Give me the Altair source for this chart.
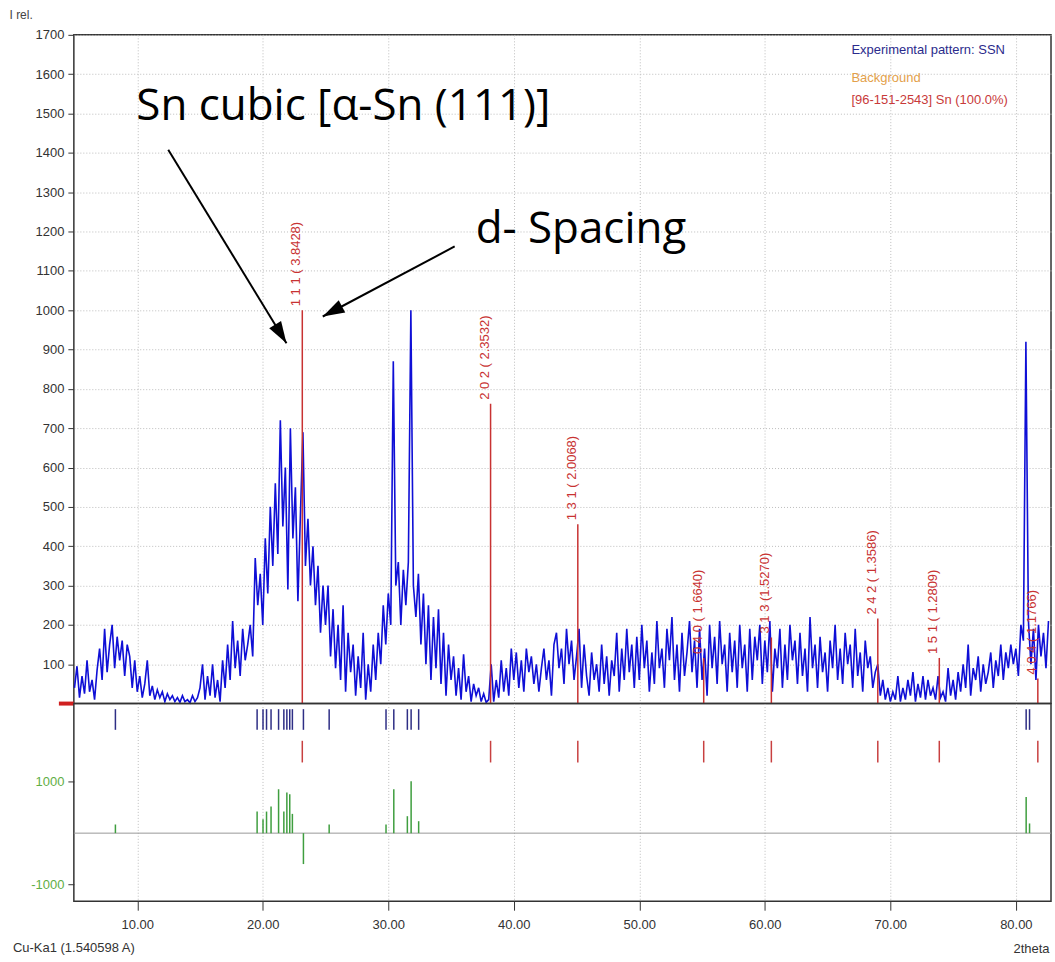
import math
import altair as alt
import pandas as pd

# ---------------- data ----------------
# experimental pattern, sampled every 0.2 deg 2theta starting at 5.0
X_START = 5.0
X_STEP = 0.2
INTENSITY = [
    40, 95, 15, 70, 25,        # 5
    110, 30, 60, 10, 85,       # 6
    140, 60, 190, 80, 150,     # 7
    200, 90, 170, 110, 160,    # 8
    70, 150, 120, 40, 110,     # 9
    30, 70, 15, 50, 110,       # 10
    20, 45, 10, 35, 15,        # 11
    30, 5, 25, 10, 20,         # 12
    5, 15, 3, 20, 5,           # 13
    10, 2, 20, 5, 15,          # 14
    40, 100, 10, 70, 20,       # 15
    100, 15, 60, 5, 110,       # 16
    40, 150, 60, 210, 90,      # 17
    160, 70, 190, 110, 150,    # 18
    200, 120, 370, 250, 330,   # 19
    200, 420, 280, 500, 350,   # 20
    560, 380, 720, 450, 600,   # 21
    290, 700, 420, 550, 260,   # 22
    480, 690, 350, 470, 300,   # 23
    400, 250, 350, 180, 300,   # 24
    200, 300, 120, 240, 90,    # 25
    200, 60, 250, 30, 180,     # 26
    80, 150, 20, 120, 40,      # 27
    180, 10, 100, 30, 150,     # 28
    60, 180, 100, 250, 150,    # 29
    280, 200, 870, 300, 360,   # 30
    200, 340, 250, 360, 1000,  # 31
    300, 220, 330, 150, 280,   # 32
    100, 250, 60, 220, 90,     # 33
    240, 50, 180, 20, 150,     # 34
    60, 120, 20, 90, 10,       # 35
    125, 30, 70, 5, 50,        # 36
    20, 40, 5, 25, 3,          # 37
    10, 100, 5, 60, 15,        # 38
    110, 30, 90, 20, 140,      # 39
    60, 130, 40, 110, 30,      # 40
    140, 80, 120, 50, 100,     # 41
    30, 90, 140, 60, 110,      # 42
    20, 150, 180, 90, 140,     # 43
    50, 190, 100, 160, 60,     # 44
    120, 190, 40, 150, 70,     # 45
    20, 130, 60, 100, 30,      # 46
    150, 50, 120, 20, 110,     # 47
    70, 180, 30, 140, 60,      # 48
    190, 80, 150, 40, 170,     # 49
    60, 200, 90, 160, 30,      # 50
    130, 50, 210, 90, 140,     # 51
    40, 190, 110, 220, 60,     # 52
    150, 30, 180, 70, 130,     # 53
    210, 80, 160, 40, 190,     # 54
    60, 140, 20, 200, 90,      # 55
    170, 50, 210, 100, 150,    # 56
    30, 180, 80, 160, 40,      # 57
    200, 90, 150, 30, 190,     # 58
    60, 170, 110, 200, 50,     # 59
    160, 80, 210, 30, 140,     # 60
    90, 190, 40, 150, 60,      # 61
    200, 110, 160, 50, 180,    # 62
    70, 140, 30, 220, 90,      # 63
    150, 40, 170, 80, 130,     # 64
    30, 160, 90, 200, 60,      # 65
    140, 50, 180, 100, 150,    # 66
    40, 190, 70, 130, 30,      # 67
    160, 90, 120, 40, 80,      # 68
    100, 20, 60, 10, 40,       # 69
    5, 30, 10, 70, 5,          # 70
    40, 10, 60, 20, 80,        # 71
    5, 50, 15, 70, 10,         # 72
    60, 20, 40, 10, 70,        # 73
    15, 30, 5, 90, 20,         # 74
    60, 10, 80, 30, 100,       # 75
    40, 150, 20, 90, 60,       # 76
    120, 30, 100, 50, 80,      # 77
    130, 40, 110, 70, 150,     # 78
    60, 130, 90, 150, 100,     # 79
    140, 70, 200, 160, 920,    # 80
    210, 100, 190, 60, 200,    # 81
    120, 180, 90, 210,         # 82
]
TWO_THETA = [round(X_START + i * X_STEP, 2) for i in range(len(INTENSITY))]

# reference pattern [96-151-2543] Sn
REF_2THETA = [23.15, 38.15, 45.10, 55.13, 60.52, 69.00, 73.90, 81.75]
REF_I = [1000, 762, 456, 116, 168, 216, 116, 64]
REF_LABEL = ["1 1 1 ( 3.8428)", "2 0 2 ( 2.3532)", "1 3 1 ( 2.0068)",
             "0 4 0 ( 1.6640)", "3 1 3 (1.5270)", "2 4 2 ( 1.3586)",
             "1 5 1 ( 1.2809)", "4 0 4 ( 1.1766)"]

# peak list of the measured pattern
PEAK_X = [8.26, 19.55, 20.02, 20.30, 20.66, 21.26, 21.68, 21.92, 22.15, 22.36,
          23.24, 25.29, 29.82, 30.44, 31.52, 31.82, 32.42, 80.82, 81.09]
PEAK_I = [168, 419, 271, 419, 516, 852, 419, 787, 755, 374,
          -600, 168, 168, 852, 329, 1006, 232, 702, 188]

# annotations
ANN_TEXT = ["Sn cubic [α-Sn (111)]", "d- Spacing"]
ANN_X = [9.93, 36.96]
ANN_Y = [1484, 1171]
ARROW_X0 = [12.47, 35.29]
ARROW_Y0 = [1408, 1162]
ARROW_X1 = [21.89, 24.78]
ARROW_Y1 = [916, 984]

LEGEND_TEXT = ["Experimental pattern: SSN", "Background", "[96-151-2543] Sn  (100.0%)"]
X_TICKS = [10, 20, 30, 40, 50, 60, 70, 80]
Y_TICKS = list(range(100, 1800, 100))
LOW_TICKS = [1000, -1000]

# ---------------- layout / style ----------------
XMIN, XMAX = 4.95, 82.8
YMAX = 1700
LOW_DOMAIN = [-1321, 2515]
W, H_TOP, H_LOW = 979, 670, 198
FONT = "Liberation Sans"
BLUE = "#0f0fd6"
RED = "#c83232"
GREEN = "#3f9e3f"
GRID = "#bdbdbd"
LEGEND_COLORS = ["#2b2b8c", "#e3a04a", "#c83a3a"]
LEGEND_Y = [15, 43, 65]

xscale = alt.Scale(domain=[XMIN, XMAX], nice=False, zero=False)

x_top = alt.X("x:Q", scale=xscale,
              axis=alt.Axis(values=X_TICKS, labels=False, ticks=False, title=None,
                            grid=True, gridDash=[1, 2], gridColor=GRID))
y_top = alt.Y("y:Q", scale=alt.Scale(domain=[0, YMAX], nice=False),
              axis=alt.Axis(values=Y_TICKS, format="d", tickSize=6, labelPadding=4,
                            labelFontSize=13, grid=True, gridDash=[1, 2], gridColor=GRID,
                            title="I rel.", titleAngle=0, titleAlign="left",
                            titleBaseline="alphabetic", titleX=-65, titleY=-16,
                            titleFontSize=12, titleFontWeight="normal", titleColor="#444"))

pat = pd.DataFrame({"x": TWO_THETA, "y": INTENSITY})
ref = pd.DataFrame({"x": REF_2THETA, "y": REF_I, "label": REF_LABEL})
ann = pd.DataFrame({"x": ANN_X, "y": ANN_Y, "text": ANN_TEXT})
one = pd.DataFrame({"k": [0]})

pxx = W / (XMAX - XMIN)
pxy = H_TOP / YMAX
angles = []
for x0, y0, x1, y1 in zip(ARROW_X0, ARROW_Y0, ARROW_X1, ARROW_Y1):
    dx = (x1 - x0) * pxx
    dy = -(y1 - y0) * pxy
    angles.append(math.degrees(math.atan2(dx, -dy)) % 360)
arrows = pd.DataFrame({"x": ARROW_X0, "y": ARROW_Y0, "x2": ARROW_X1, "y2": ARROW_Y1})
heads = pd.DataFrame({"x": ARROW_X1, "y": ARROW_Y1, "angle": angles})

line_layer = alt.Chart(pat).mark_line(color=BLUE, strokeWidth=1.6).encode(x=x_top, y=y_top)
sticks = alt.Chart(ref).mark_rule(color=RED, strokeWidth=1.5).encode(
    x=x_top, y=y_top, y2=alt.datum(0))
stick_labels = alt.Chart(ref).mark_text(
    angle=270, align="left", baseline="bottom", dx=4, dy=1,
    font=FONT, fontSize=13, color=RED).encode(x=x_top, y=y_top, text="label:N")
ann_text = alt.Chart(ann).mark_text(
    align="left", baseline="alphabetic", font="Open Sans", fontSize=44,
    color="black").encode(x=x_top, y=y_top, text="text:N")
arrow_lines = alt.Chart(arrows).mark_rule(color="black", strokeWidth=2).encode(
    x=x_top, y=y_top, x2="x2:Q", y2="y2:Q")
arrow_heads = alt.Chart(heads).mark_point(
    shape="M0,0L-0.32,1L0.32,1Z", size=1900, filled=True, color="black",
    opacity=1).encode(x=x_top, y=y_top, angle=alt.Angle("angle:Q", scale=None))
zero_marker = alt.Chart(one).mark_rule(color="#d02020", strokeWidth=4).encode(
    x=alt.value(-15), x2=alt.value(0), y=alt.value(H_TOP))

legend_layers = [
    alt.Chart(one).mark_text(text=t, align="left", baseline="middle", font=FONT,
                             fontSize=13, color=c).encode(x=alt.value(779), y=alt.value(yy))
    for t, c, yy in zip(LEGEND_TEXT, LEGEND_COLORS, LEGEND_Y)
]

top = alt.layer(line_layer, sticks, stick_labels, ann_text, arrow_lines,
                arrow_heads, zero_marker, *legend_layers).properties(width=W, height=H_TOP)

# ---------------- lower panel ----------------
x_low = alt.X("x:Q", scale=xscale,
              axis=alt.Axis(values=X_TICKS, format=".2f", tickSize=9, labelPadding=8,
                            labelFontSize=13, grid=True, gridDash=[1, 2], gridColor=GRID,
                            title="2theta", titleAlign="right", titleAnchor="end",
                            titleX=977, titleY=47, titleBaseline="middle",
                            titleFontSize=13, titleFontWeight="normal", titleColor="#333"))
y_low = alt.Y("y:Q", scale=alt.Scale(domain=LOW_DOMAIN, nice=False, zero=False),
              axis=alt.Axis(values=LOW_TICKS, labelExpr="'' + datum.value", tickSize=6,
                            labelPadding=4, labelFontSize=13, labelColor="#5fae45",
                            grid=False, title=None))

peaks = pd.DataFrame({"x": PEAK_X, "y": PEAK_I})
refx = pd.DataFrame({"x": REF_2THETA})

green = alt.Chart(peaks).mark_rule(color=GREEN, strokeWidth=1.5).encode(
    x=x_low, y=y_low, y2=alt.datum(0))
zero_line = alt.Chart(one).mark_rule(color="#999999", strokeWidth=1).encode(y=alt.datum(0))
blue_ticks = alt.Chart(peaks).mark_rule(color="#2e2e85", strokeWidth=1.5).encode(
    x=x_low, y=alt.value(5.6), y2=alt.value(26.3))
red_ticks = alt.Chart(refx).mark_rule(color="#c84040", strokeWidth=1.5).encode(
    x=x_low, y=alt.value(37.3), y2=alt.value(59))
wave = alt.Chart(one).mark_text(
    text="Cu-Ka1 (1.540598 A)", align="left", baseline="middle", font=FONT,
    fontSize=13, color="#333").encode(x=alt.value(-61), y=alt.value(245))

low = alt.layer(zero_line, green, blue_ticks, red_ticks, wave).properties(width=W, height=H_LOW)

chart = alt.vconcat(top, low, spacing=0, bounds="flush").properties(
    padding={"left": 8, "top": 7, "right": 2, "bottom": 2}
).configure_view(stroke="#333333", strokeWidth=1.5).configure_axis(
    labelFont=FONT, titleFont=FONT, labelColor="#333333", tickColor="#333333",
    domain=False)

chart.save("out.html", embed_options={"renderer": "svg", "actions": False})
